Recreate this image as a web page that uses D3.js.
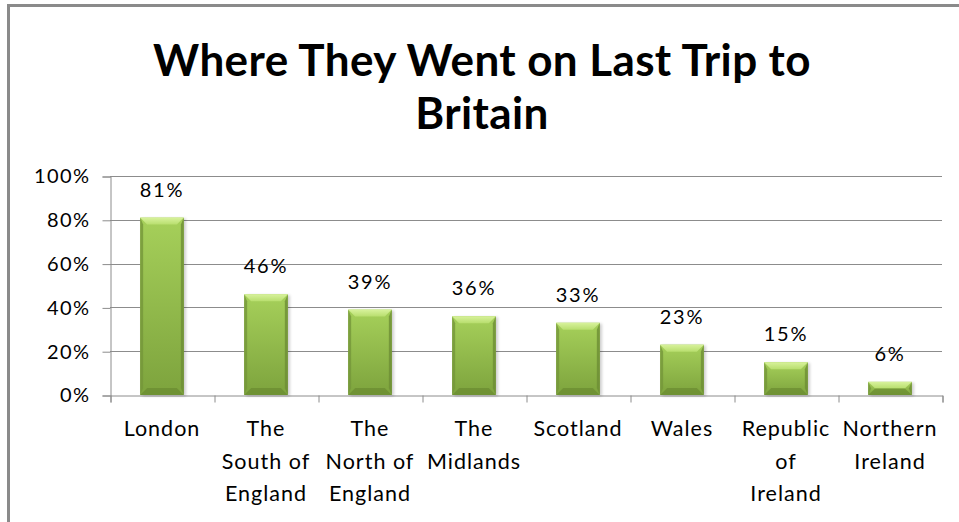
<!DOCTYPE html>
<html>
<head>
<meta charset="utf-8">
<script src="https://cdn.jsdelivr.net/npm/d3@7"></script>
<style>
  html, body { margin: 0; padding: 0; background: #fff; }
  svg { display: block; }
  text { font-family: Lato, "Open Sans", sans-serif; fill: #000; }
</style>
</head>
<body>
<svg id="chart" width="959" height="522"></svg>
<script>
// Share of visitors by region visited on their last trip to Britain
const titleLines = ["Where They Went on Last Trip to", "Britain"];
const categories = [
  "London",
  "The\nSouth of\nEngland",
  "The\nNorth of\nEngland",
  "The\nMidlands",
  "Scotland",
  "Wales",
  "Republic\nof\nIreland",
  "Northern\nIreland"
];
const values = [0.81, 0.46, 0.39, 0.36, 0.33, 0.23, 0.15, 0.06];
const yTicks = [0, 0.2, 0.4, 0.6, 0.8, 1.0];

const svg = d3.select("#chart");
const plot = { left: 110, right: 942, top: 176, bottom: 395 };

// Outer chart frame
svg.append("rect")
  .attr("x", 8.5).attr("y", 5.5)
  .attr("width", 1000).attr("height", 600)
  .attr("fill", "#fff")
  .attr("stroke", "#8a8a8a").attr("stroke-width", 3);

// Title
const title = svg.append("text")
  .attr("text-anchor", "middle")
  .attr("font-weight", 700)
  .attr("font-size", 44)
  .attr("letter-spacing", 0.4);
title.selectAll("tspan").data(titleLines).join("tspan")
  .attr("x", 482)
  .attr("y", (d, i) => 76 + i * 53)
  .text(d => d);

// Scales
const x = d3.scaleBand()
  .domain(categories)
  .range([plot.left, plot.right])
  .paddingInner(0.58)
  .paddingOuter(0.29);
const y = d3.scaleLinear().domain([0, 1]).range([plot.bottom, plot.top]);
const xEdges = d3.scaleLinear().domain([0, categories.length]).range([plot.left, plot.right]);

const gridColor = "#8c8c8c";

// Horizontal gridlines
svg.append("g")
  .selectAll("line")
  .data(yTicks.filter(d => d > 0))
  .join("line")
  .attr("x1", plot.left).attr("x2", plot.right)
  .attr("y1", d => Math.round(y(d)) + 0.5)
  .attr("y2", d => Math.round(y(d)) + 0.5)
  .attr("stroke", gridColor).attr("stroke-width", 1);

// Y axis
const yAxis = svg.append("g")
  .attr("transform", `translate(${plot.left + 0.5},0.5)`)
  .call(d3.axisLeft(y).tickValues(yTicks).tickFormat(d3.format(".0%")).tickSize(8).tickPadding(12));
yAxis.select(".domain").attr("stroke", gridColor);
yAxis.selectAll(".tick line").attr("stroke", gridColor);
yAxis.selectAll(".tick text")
  .attr("font-size", 20)
  .attr("letter-spacing", 1.4)
  .attr("font-family", "Lato, 'Open Sans', sans-serif")
  .attr("fill", "#000");

// X axis (tick marks at category boundaries)
const xAxis = svg.append("g")
  .attr("transform", `translate(0.5,${Math.round(plot.bottom) + 0.5})`)
  .call(d3.axisBottom(xEdges).ticks(categories.length).tickFormat("").tickSize(7).tickSizeOuter(7));
xAxis.select(".domain").attr("stroke", gridColor);
xAxis.selectAll(".tick line").attr("stroke", gridColor);

// Category labels
const catLabels = svg.append("g")
  .selectAll("text")
  .data(categories)
  .join("text")
  .attr("text-anchor", "middle")
  .attr("font-size", 21.5)
  .attr("letter-spacing", 1);
catLabels.selectAll("tspan")
  .data(d => d.split("\n").map(line => ({ line, cat: d })))
  .join("tspan")
  .attr("x", d => x(d.cat) + x.bandwidth() / 2)
  .attr("y", (d, i) => 436 + i * 32.5)
  .text(d => d.line);

// Bar styling definitions
const defs = svg.append("defs");
const face = defs.append("linearGradient").attr("id", "face")
  .attr("x1", 0).attr("y1", 0).attr("x2", 0).attr("y2", 1);
face.append("stop").attr("offset", "0%").attr("stop-color", "#a6d05a");
face.append("stop").attr("offset", "100%").attr("stop-color", "#7da33d");
const topBevel = defs.append("linearGradient").attr("id", "topBevel")
  .attr("x1", 0).attr("y1", 0).attr("x2", 0).attr("y2", 1);
topBevel.append("stop").attr("offset", "0%").attr("stop-color", "#d8f29c");
topBevel.append("stop").attr("offset", "100%").attr("stop-color", "#b8de6e");
const shadow = defs.append("filter").attr("id", "shadow")
  .attr("x", "-30%").attr("y", "-10%").attr("width", "160%").attr("height", "130%");
shadow.append("feGaussianBlur").attr("stdDeviation", 1.8);

// Bars
const data = categories.map((c, i) => ({ c, v: values[i] }));
const bars = svg.append("g").selectAll("g").data(data).join("g");

bars.each(function (d) {
  const g = d3.select(this);
  const bx = x(d.c), bw = x.bandwidth();
  const by = y(d.v), bh = y(0) - y(d.v);
  const b = Math.min(7, bh / 2);
  const side = Math.min(3, bw / 4);

  g.append("rect")
    .attr("x", bx + 2).attr("y", by + 1)
    .attr("width", bw).attr("height", bh)
    .attr("fill", "#000").attr("opacity", 0.2)
    .attr("filter", "url(#shadow)");

  g.append("rect")
    .attr("x", bx).attr("y", by)
    .attr("width", bw).attr("height", bh)
    .attr("fill", "url(#face)");

  // darker side edges
  g.append("polygon")
    .attr("points", [[bx, by], [bx + side, by + b], [bx + side, by + bh - b], [bx, by + bh]].join(" "))
    .attr("fill", "#74963a").attr("opacity", 0.8);
  g.append("polygon")
    .attr("points", [[bx + bw, by], [bx + bw - side, by + b], [bx + bw - side, by + bh - b], [bx + bw, by + bh]].join(" "))
    .attr("fill", "#6d8d34").attr("opacity", 0.8);

  // light top bevel
  g.append("polygon")
    .attr("points", [[bx, by], [bx + bw, by], [bx + bw - side - 4, by + b], [bx + side + 4, by + b]].join(" "))
    .attr("fill", "url(#topBevel)");

  // dark bottom bevel
  g.append("polygon")
    .attr("points", [[bx, by + bh], [bx + bw, by + bh], [bx + bw - side - 4, by + bh - b], [bx + side + 4, by + bh - b]].join(" "))
    .attr("fill", "#6a8a31").attr("opacity", 0.7);
});

// Value labels
svg.append("g")
  .selectAll("text")
  .data(data)
  .join("text")
  .attr("text-anchor", "middle")
  .attr("font-size", 20)
  .attr("letter-spacing", 1.8)
  .attr("x", d => x(d.c) + x.bandwidth() / 2)
  .attr("y", d => y(d.v) - 21)
  .text(d => d3.format(".0%")(d.v));
</script>
</body>
</html>
